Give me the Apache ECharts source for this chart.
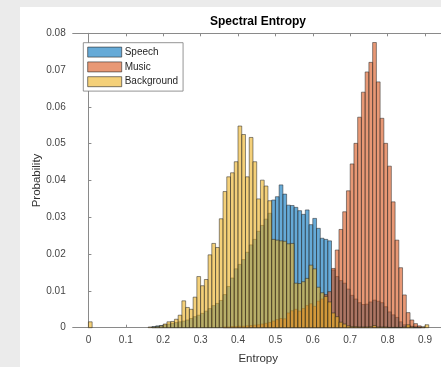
<!DOCTYPE html>
<html><head><meta charset="utf-8">
<script src="https://cdn.jsdelivr.net/npm/echarts@6/dist/echarts.min.js"></script>
<style>
html,body{margin:0;padding:0;background:#ebebeb;}
#wrap{position:relative;width:441px;height:367px;background:#ebebeb;overflow:hidden;}
#panel{position:absolute;left:20px;top:7px;right:0;bottom:0;background:#fff;}
#chart{position:absolute;left:0;top:0;width:441px;height:367px;}
</style></head><body>
<div id="wrap"><div id="panel"></div><div id="chart"></div></div>
<script>
// Histogram bins: width 0.01, first bin starts at 0 (bin k covers [0.01k, 0.01(k+1)])
const binStart = 0;
const binWidth = 0.01;
const seriesNames = ['Speech', 'Music', 'Background'];
const xTickLabels = [0, 0.1, 0.2, 0.3, 0.4, 0.5, 0.6, 0.7, 0.8, 0.9];
const yTickLabels = [0, 0.01, 0.02, 0.03, 0.04, 0.05, 0.06, 0.07, 0.08];

const speech = [
  0,0,0,0,0,0,0,0,0,0,                                                  // 0.00-0.09
  0,0,0,0,0,0,0,0.0003,0.0005,0.0006,                                   // 0.10-0.19
  0.0008,0.0010,0.0012,0.0014,0.0016,0.0018,0.0021,0.0025,0.0030,0.0034,// 0.20-0.29
  0.0039,0.0045,0.0052,0.0060,0.0066,0.0074,0.0090,0.0112,0.0135,0.0160,// 0.30-0.39
  0.0172,0.0185,0.0205,0.0225,0.0240,0.0262,0.0278,0.0295,0.0311,0.0347,// 0.40-0.49
  0.0356,0.0388,0.0363,0.0333,0.0332,0.0327,0.0318,0.0308,0.0320,0.0280,// 0.50-0.59
  0.0297,0.0270,0.0243,0.0240,0.0236,0.0157,0.0139,0.0128,0.0121,0.0105,// 0.60-0.69
  0.0088,0.0078,0.0068,0.0063,0.0064,0.0070,0.0075,0.0072,0.0068,0.0057,// 0.70-0.79
  0.0043,0.0035,0.0028,0.0016,0.0008,0.0005,0.0004,0.0004,0.0002,0,     // 0.80-0.89
  0,0                                                                   // 0.90-0.91
];
const music = [
  0,0,0,0,0,0,0,0,0,0,
  0,0,0,0,0,0,0,0,0,0,
  0,0,0,0,0,0,0,0,0,0,
  0,0,0,0,0,0,0.0002,0.0002,0.0003,0.0003,
  0.0004,0.0004,0.0005,0.0006,0.0007,0.0008,0.0010,0.0012,0.0014,0.0018,
  0.0022,0.0025,0.0024,0.0040,0.0046,0.0050,0.0045,0.0052,0.0060,0.0065,
  0.0058,0.0072,0.0078,0.0090,0.0098,0.0161,0.0211,0.0267,0.0315,0.0372,
  0.0445,0.0501,0.0572,0.0640,0.0695,0.0721,0.0775,0.0668,0.0569,0.0501,
  0.0439,0.0342,0.0238,0.0163,0.0089,0.0041,0.0021,0.0011,0.0005,0.0002,
  0,0
];
const background = [
  0.0016,0,0,0,0,0,0,0,0,0,
  0,0,0,0,0,0,0.0002,0.0002,0.0003,0.0005,
  0.0010,0.0016,0.0017,0.0023,0.0034,0.0073,0.0055,0.0050,0.0083,0.0139,
  0.0114,0.0131,0.0198,0.0229,0.0218,0.0296,0.0370,0.0410,0.0421,0.0451,
  0.0548,0.0525,0.0410,0.0517,0.0451,0.0350,0.0401,0.0385,0.0345,0.0240,
  0.0238,0.0236,0.0235,0.0228,0.0229,0.0121,0.0120,0.0125,0.0134,0.0170,
  0.0160,0.0110,0.0095,0.0085,0.0070,0.0040,0.0030,0.0015,0.0010,0.0005,
  0.0003,0.0003,0.0002,0.0002,0.0002,0.0003,0.0006,0.0002,0.0002,0.0002,
  0.0001,0.0001,0.0001,0.0001,0.0002,0.0008,0.0002,0.0001,0.0001,0.0002,
  0.0008,0
];

const colors = ['rgba(0,114,189,0.6)', 'rgba(217,83,25,0.6)', 'rgba(237,177,32,0.6)'];
const edge = 'rgba(38,38,38,0.75)';
const FONT = 'Liberation Sans, Arial, Helvetica, sans-serif';

function toBins(vals) {
  const out = [];
  vals.forEach((v, k) => {
    if (v > 0) out.push([binStart + k * binWidth, binStart + (k + 1) * binWidth, v]);
  });
  return out;
}

function makeRender(color) {
  return function (params, api) {
    const p0 = api.coord([api.value(0), api.value(2)]);
    const p1 = api.coord([api.value(1), 0]);
    return {
      type: 'rect',
      shape: { x: p0[0], y: p0[1], width: p1[0] - p0[0], height: p1[1] - p0[1] },
      style: { fill: color, stroke: edge, lineWidth: 0.7 }
    };
  };
}

const allSeries = [speech, music, background].map((vals, i) => ({
  name: seriesNames[i],
  type: 'custom',
  renderItem: makeRender(colors[i]),
  itemStyle: { color: colors[i], borderColor: edge, borderWidth: 0.7 },
  encode: { x: [0, 1], y: 2 },
  data: toBins(vals),
  z: 2 + i
}));

const chart = echarts.init(document.getElementById('chart'), null, { renderer: 'canvas' });
const axisLineStyle = { color: '#8a8a8a', width: 1 };
chart.setOption({
  animation: false,
  backgroundColor: 'transparent',
  title: {
    text: 'Spectral Entropy',
    left: 210, top: 16, padding: 0,
    textStyle: { fontFamily: FONT, fontSize: 12, fontWeight: 'bold', color: '#000' }
  },
  legend: {
    orient: 'vertical',
    left: 83.3, top: 42.7,
    padding: [4, 5, 4, 4],
    itemWidth: 34, itemHeight: 10, itemGap: 4,
    selectedMode: false,
    backgroundColor: '#fff',
    borderColor: '#7a7a7a', borderWidth: 0.8,
    icon: 'rect',
    textStyle: { fontFamily: FONT, fontSize: 10, color: '#262626', padding: [0, 0, 0, -2] },
    data: seriesNames.map((n, i) => ({ name: n, itemStyle: { color: colors[i], borderColor: edge, borderWidth: 0.8 } }))
  },
  grid: { left: 72.7, top: 33.3, width: 371, height: 294.4, containLabel: false, outerBoundsMode: 'none' },
  xAxis: [{
    type: 'value', min: -0.042, max: 0.95,
    name: 'Entropy', nameLocation: 'middle', nameGap: 25.5, nameMoveOverlap: false,
    nameTextStyle: { fontFamily: FONT, fontSize: 11.5, color: '#333' },
    axisLine: { show: true, lineStyle: axisLineStyle },
    axisTick: { show: true, inside: true, length: 3, lineStyle: axisLineStyle, customValues: xTickLabels },
    axisLabel: { margin: 8, fontFamily: FONT, fontSize: 10, color: '#454545', customValues: xTickLabels,
      formatter: v => String(Math.round(v * 10) / 10) },
    splitLine: { show: false }
  }, {
    type: 'value', min: -0.042, max: 0.95, position: 'top',
    axisLine: { show: true, lineStyle: axisLineStyle },
    axisTick: { show: true, inside: true, length: 3, lineStyle: axisLineStyle, customValues: xTickLabels },
    axisLabel: { show: false },
    splitLine: { show: false }
  }],
  yAxis: [{
    type: 'value', min: 0, max: 0.08, interval: 0.01,
    name: 'Probability', nameLocation: 'middle', nameGap: 30, nameRotate: 90, nameMoveOverlap: false,
    nameTextStyle: { fontFamily: FONT, fontSize: 11.5, color: '#333' },
    axisLine: { show: true, lineStyle: axisLineStyle },
    axisTick: { show: true, inside: true, length: 3, lineStyle: axisLineStyle },
    axisLabel: { margin: 7, fontFamily: FONT, fontSize: 10, color: '#454545',
      formatter: v => (v === 0 ? '0' : v.toFixed(2)) },
    splitLine: { show: false }
  }],
  series: allSeries
});
</script>
</body></html>
